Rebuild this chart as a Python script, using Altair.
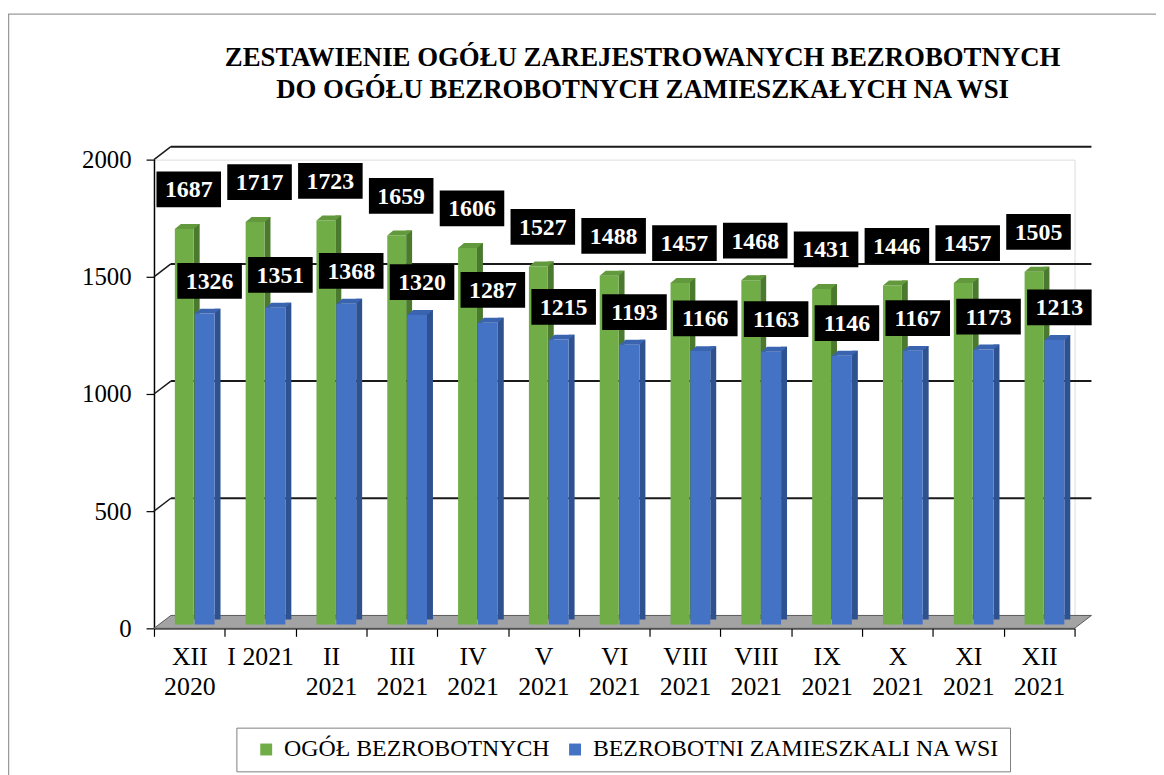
import json
import altair as alt
import pandas as pd

# ---------------- data ----------------
title_lines = ["ZESTAWIENIE OGÓŁU ZAREJESTROWANYCH BEZROBOTNYCH",
               "DO OGÓŁU BEZROBOTNYCH ZAMIESZKAŁYCH NA WSI"]
categories = ["XII\n2020", "I 2021", "II\n2021", "III\n2021", "IV\n2021", "V\n2021",
              "VI\n2021", "VIII\n2021", "VIII\n2021", "IX\n2021", "X\n2021",
              "XI\n2021", "XII\n2021"]
series_names = ["OGÓŁ BEZROBOTNYCH", "BEZROBOTNI ZAMIESZKALI NA WSI"]
total = [1687, 1717, 1723, 1659, 1606, 1527, 1488, 1457, 1468, 1431, 1446, 1457, 1505]
rural = [1326, 1351, 1368, 1320, 1287, 1215, 1193, 1166, 1163, 1146, 1167, 1173, 1213]
y_ticks = [0, 500, 1000, 1500, 2000]

# ---------------- style ----------------
W, H = 927, 472
N = len(categories)
BAND = W / N
SERIF = "Liberation Serif"
GREEN, GREEN_SIDE, GREEN_TOP = "#70AD47", "#4B7A2E", "#62993C"
BLUE, BLUE_SIDE, BLUE_TOP = "#4472C4", "#2E5290", "#3A64B0"

green_df = pd.DataFrame({"idx": list(range(N)), "value": total, "series": series_names[0]})
blue_df = pd.DataFrame({"idx": list(range(N)), "value": rural, "series": series_names[1]})
grid_df = pd.DataFrame({"g": y_ticks[1:]})

label_expr = ("datum.value < %d ? split(%s[datum.value], '\\n') : ''"
              % (N, json.dumps(categories, ensure_ascii=False)))

xscale = alt.Scale(domain=[0, N], nice=False, zero=False)
yscale = alt.Scale(domain=[0, 2000], nice=False)

x_axis = alt.Axis(values=list(range(N + 1)), labelExpr=label_expr, labelOffset=BAND / 2,
                  labelFlush=False, labelOverlap=False, tickSize=8, tickColor="black",
                  domainColor="black", domainWidth=1.5, tickWidth=1.2,
                  labelFont=SERIF, labelFontSize=26, labelLineHeight=31, labelPadding=7,
                  labelColor="black", labelBaseline="top", grid=False, title=None)
y_axis = alt.Axis(values=y_ticks, format="d", tickSize=8, tickColor="black",
                  domainColor="black", domainWidth=1.5, tickWidth=1.2, labelFont=SERIF,
                  labelFontSize=25, labelPadding=15, labelColor="black", grid=False,
                  title=None)


def X(field):
    return alt.X(field, scale=xscale, axis=x_axis)


def Y(field):
    return alt.Y(field, scale=yscale, axis=y_axis)


XD0 = alt.XDatum(0, type="quantitative", scale=xscale, axis=x_axis)
YD0 = alt.YDatum(0, type="quantitative", scale=yscale, axis=y_axis)

# outer frame
frame = alt.Chart(alt.InlineData(values=[{"a": 1}])).mark_rect(
    fillOpacity=0, stroke="#9a9a9a", strokeWidth=1.5
).encode(x=alt.value(-146.5), x2=alt.value(1030), y=alt.value(-146.5), y2=alt.value(700))

# floor
floor = alt.Chart(alt.InlineData(values=[{"a": 1}])).mark_point(
    shape="M0,0L%d,0L%d,-13L17,-13Z" % (W, W + 17), size=4, filled=True,
    fill="#a3a3a3", stroke="#5a5a5a", strokeWidth=1, opacity=1
).encode(x=XD0, y=YD0)

# back gridlines and side diagonals
grid = alt.Chart(grid_df).mark_rule(
    xOffset=17, x2Offset=17, yOffset=-13, color="#1a1a1a", strokeWidth=2
).encode(x=XD0, x2=alt.X2Datum(N), y=Y("g:Q"))
diag = alt.Chart(grid_df).mark_rule(
    x2Offset=17, y2Offset=-13, color="#1a1a1a", strokeWidth=1.5
).encode(x=XD0, x2=alt.X2Datum(0), y=Y("g:Q"), y2=alt.Y2("g:Q"))

cscale = alt.Scale(domain=series_names, range=[GREEN, BLUE])
legend = alt.Legend(title=None, orient="none", legendX=83, legendY=572, direction="horizontal",
                    strokeColor="#7f7f7f", padding=10, symbolOffset=8,
                    labelFont=SERIF, labelFontSize=24, labelColor="black", labelLimit=800,
                    symbolType="square", symbolSize=144, symbolStrokeWidth=0,
                    columnPadding=5, labelOffset=6)


def bar_layers(df, x0, w, side, topcolor):
    sidel = alt.Chart(df).mark_rect(
        xOffset=x0 + w, x2Offset=x0 + w + 6, yOffset=-9, y2Offset=-9, color=side
    ).encode(x=X("idx:Q"), x2=alt.X2("idx:Q"), y=Y("value:Q"), y2=alt.Y2Datum(0))
    front = alt.Chart(df).mark_rect(
        xOffset=x0, x2Offset=x0 + w, yOffset=-4, y2Offset=-4
    ).encode(x=X("idx:Q"), x2=alt.X2("idx:Q"), y=Y("value:Q"), y2=alt.Y2Datum(0),
             color=alt.Color("series:N", scale=cscale, legend=legend))
    topl = alt.Chart(df).mark_point(
        shape="M0,0L%d,0L%d,-5L6,-5Z" % (w, w + 6), size=4, filled=True, color=topcolor,
        opacity=1, strokeWidth=0, xOffset=x0, yOffset=-4
    ).encode(x=X("idx:Q"), y=Y("value:Q"))
    return [sidel, front, topl]


def label_layers(df, cx, cy):
    box = alt.Chart(df).mark_rect(
        color="black", xOffset=cx - 32.5, x2Offset=cx + 32.5, yOffset=cy - 18, y2Offset=cy + 18
    ).encode(x=X("idx:Q"), x2=alt.X2("idx:Q"), y=Y("value:Q"), y2=alt.Y2("value:Q"))
    txt = alt.Chart(df).mark_text(
        font=SERIF, fontSize=24, fontWeight="bold", color="white", align="center",
        baseline="middle", xOffset=cx, yOffset=cy + 1
    ).encode(x=X("idx:Q"), y=Y("value:Q"), text=alt.Text("value:Q"))
    return [box, txt]


layers = [frame, floor, grid, diag]
layers += bar_layers(green_df, 21, 19, GREEN_SIDE, GREEN_TOP)
layers += bar_layers(blue_df, 41, 20, BLUE_SIDE, BLUE_TOP)
layers += label_layers(green_df, 35, -44)
layers += label_layers(blue_df, 56, -37)

chart = alt.layer(*layers).properties(
    width=W, height=H,
    padding={"left": 147, "top": 150, "right": 82, "bottom": 145},
    autosize=alt.AutoSizeParams(type="none"),
    title=alt.Title(text=title_lines, font=SERIF, fontSize=27, fontWeight="bold",
                    color="black", anchor="middle", frame="group", dx=28.5, offset=-91,
                    lineHeight=32),
).configure_view(strokeWidth=0).configure(background="white")

chart.save("out.html", embed_options={"renderer": "svg", "actions": False})
